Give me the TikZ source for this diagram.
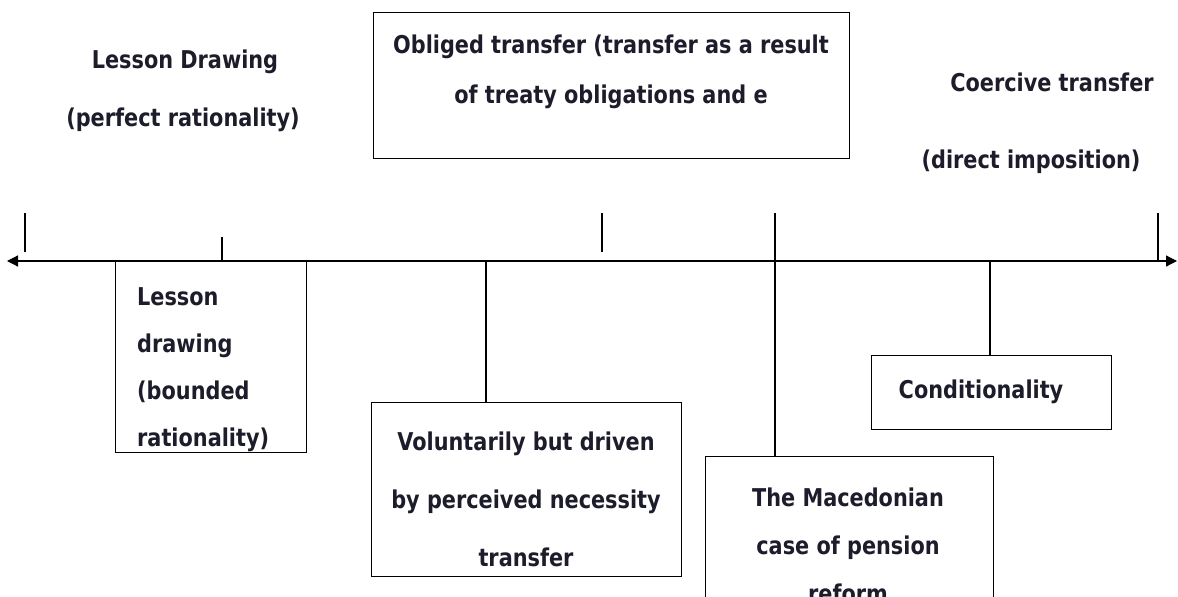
\documentclass[tikz,border=0pt]{standalone}
\usepackage{fontspec}
\newfontfamily\lab{DejaVu Sans}[FakeStretch=0.85]
\usetikzlibrary{arrows.meta}
\definecolor{ink}{RGB}{28,28,42}
\tikzset{
  lbl/.style={font=\lab\bfseries\fontsize{24.5}{50}\selectfont, text=ink, inner sep=0pt, align=center},
  boxnode/.style={draw, line width=1.4pt, inner sep=0pt, anchor=north west},
  conn/.style={line width=1.2pt},
}
\begin{document}
\begin{tikzpicture}[x=1pt,y=-1pt]
\useasboundingbox (0,0) rectangle (1178,597);
\clip (0,0) rectangle (1178,597);

% axis
\coordinate (axL) at (7,261);
\coordinate (axR) at (1177,261);
\draw[conn, {Triangle[length=11pt,width=11pt]}-{Triangle[length=11pt,width=11pt]}] (axL) -- (axR);

% boxes
\node[boxnode, minimum width=476pt, minimum height=146pt] (obl) at (373,12) {};
\node[boxnode, minimum width=191pt, minimum height=191pt] (les) at (115,261) {};
\node[boxnode, minimum width=310pt, minimum height=174pt] (vol) at (371,402) {};
\node[boxnode, minimum width=288pt, minimum height=200pt] (mac) at (705,456) {};
\node[boxnode, minimum width=240pt, minimum height=74pt] (cond) at (871,355) {};

% free labels
\node[lbl] (ld1) at (185,62) {Lesson Drawing};
\node[lbl] (ld2) at (183,120) {(perfect rationality)};
\node[lbl] (ct1) at (1052,82) {Coercive transfer};
\node[lbl] (ct2) at (1031,162) {(direct imposition)};

% box texts
\node[lbl, font=\lab\bfseries\fontsize{24.5}{50}\selectfont] (oblt) at (611,72) {Obliged transfer (transfer as a result\\of treaty obligations and e};
\node[lbl, align=left, anchor=west, font=\lab\bfseries\fontsize{24.5}{47}\selectfont] (lest) at (137,370) {Lesson\\drawing\\(bounded\\rationality)};
\node[lbl, font=\lab\bfseries\fontsize{24.5}{58}\selectfont] (volt) at (526,499) {Voluntarily but driven\\by perceived necessity\\transfer};
\node[lbl, font=\lab\bfseries\fontsize{24.5}{48}\selectfont] (mact) at (848,545) {The Macedonian\\case of pension\\reform};
\node[lbl] (condt) at (981,392) {Conditionality};

% ticks above the axis
\coordinate (tA1) at (25,213);  \coordinate (tA2) at (25,252);
\coordinate (tB1) at (222,237); \coordinate (tB2) at (222,261);
\coordinate (tC1) at (602,213); \coordinate (tC2) at (602,252);
\coordinate (tD1) at (1158,213); \coordinate (tD2) at (1158,261);
\coordinate (tE1) at (775,213);
\draw[conn] (tA1) -- (tA2);
\draw[conn] (tB1) -- (tB2);
\draw[conn] (tC1) -- (tC2);
\draw[conn] (tD1) -- (tD2);

% connectors to boxes
\coordinate (vAx) at (486,261);
\coordinate (cAx) at (990,261);
\draw[conn] (vAx) -- (vAx |- vol.north);
\draw[conn] (cAx) -- (cAx |- cond.north);
\draw[conn] (tE1) -- (tE1 |- mac.north);
\end{tikzpicture}
\end{document}
